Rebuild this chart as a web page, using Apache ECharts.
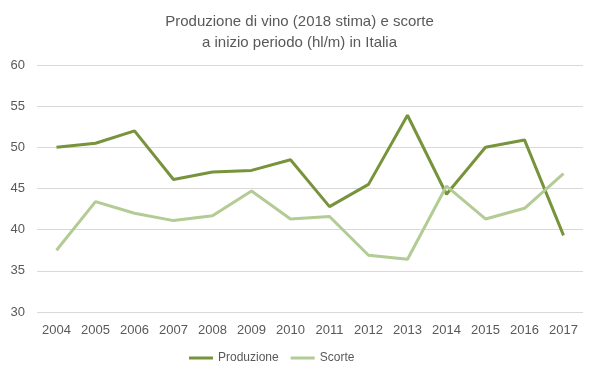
<!DOCTYPE html>
<html>
<head>
<meta charset="utf-8">
<script src="https://cdn.jsdelivr.net/npm/echarts@6/dist/echarts.min.js"></script>
<style>
  html, body { margin: 0; padding: 0; background: #fff; }
  #chart { width: 599px; height: 378px; }
</style>
</head>
<body>
<div id="chart"></div>
<script>
const years = ["2004", "2005", "2006", "2007", "2008", "2009", "2010", "2011", "2012", "2013", "2014", "2015", "2016", "2017"];
const produzione = [50.0, 50.5, 52.0, 46.1, 47.0, 47.2, 48.5, 42.8, 45.5, 53.9, 44.3, 50.0, 50.9, 39.3];
const scorte = [37.5, 43.4, 42.0, 41.1, 41.7, 44.7, 41.3, 41.6, 36.9, 36.4, 45.3, 41.3, 42.6, 46.8];

const chart = echarts.init(document.getElementById("chart"));

const textColor = "#595959";
const font = "'Liberation Sans', sans-serif";

chart.setOption({
  animation: false,
  title: {
    text: "Produzione di vino (2018 stima) e scorte\na inizio periodo (hl/m) in Italia",
    left: "center",
    top: 6,
    textStyle: {
      fontFamily: font,
      fontSize: 15,
      fontWeight: "normal",
      color: textColor,
      lineHeight: 21
    }
  },
  grid: {
    left: 37,
    right: 16,
    top: 65,
    bottom: 66
  },
  legend: {
    left: 184,
    bottom: 9,
    itemWidth: 24,
    itemHeight: 3,
    itemGap: 12,
    icon: "rect",
    textStyle: { fontFamily: font, fontSize: 12, color: textColor },
    data: ["Produzione", "Scorte"]
  },
  xAxis: {
    type: "category",
    data: years,
    boundaryGap: true,
    axisLine: { show: false },
    axisTick: { show: false },
    axisLabel: { fontFamily: font, fontSize: 13, color: textColor, margin: 12 }
  },
  yAxis: {
    type: "value",
    min: 30,
    max: 60,
    interval: 5,
    axisLine: { show: false },
    axisTick: { show: false },
    splitLine: { lineStyle: { color: "#d9d9d9", width: 1 } },
    axisLabel: { fontFamily: font, fontSize: 13, color: textColor, margin: 12 }
  },
  series: [
    {
      name: "Produzione",
      type: "line",
      data: produzione,
      showSymbol: false,
      symbol: "none",
      lineStyle: { width: 3, color: "#77933c" },
      itemStyle: { color: "#77933c" }
    },
    {
      name: "Scorte",
      type: "line",
      data: scorte,
      showSymbol: false,
      symbol: "none",
      lineStyle: { width: 3, color: "#b3cb94" },
      itemStyle: { color: "#b3cb94" }
    }
  ]
});
</script>
</body>
</html>
